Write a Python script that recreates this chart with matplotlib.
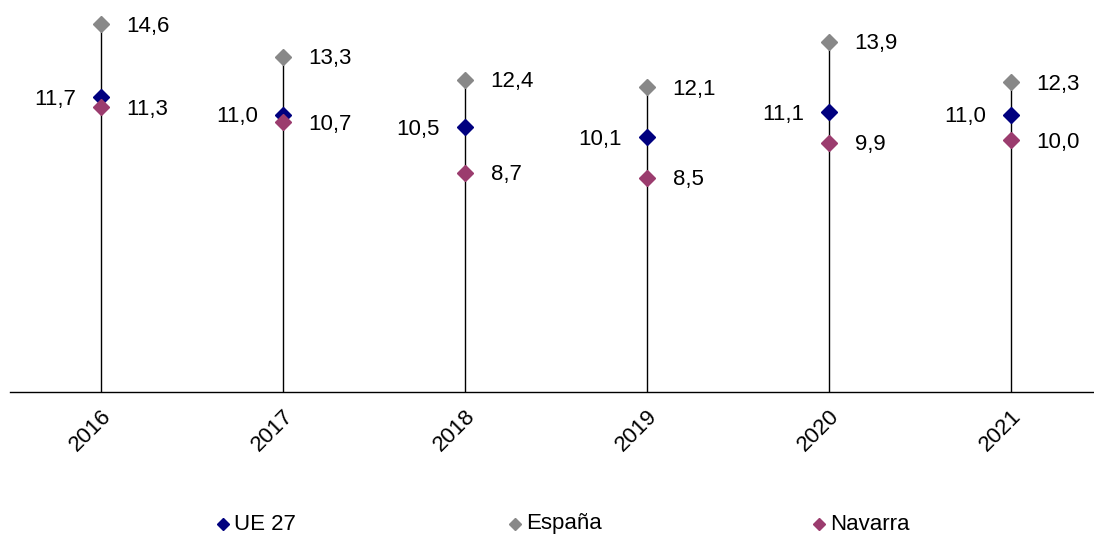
import matplotlib
matplotlib.use("Agg")
import matplotlib.pyplot as plt
from matplotlib.lines import Line2D
import numpy as np

plt.rcParams['font.family'] = ['Liberation Sans', 'DejaVu Sans']

years = ["2016", "2017", "2018", "2019", "2020", "2021"]
ue27 = [11.7, 11.0, 10.5, 10.1, 11.1, 11.0]
espana = [14.6, 13.3, 12.4, 12.1, 13.9, 12.3]
navarra = [11.3, 10.7, 8.7, 8.5, 9.9, 10.0]

c_ue = "#00007F"
c_es = "#888888"
c_na = "#9B3C6E"

W, H = 1094, 539
fig = plt.figure(figsize=(W / 100, H / 100), dpi=100)
ax = fig.add_axes([10 / W, (H - 392) / H, 1092 / W, 392 / H])
ax.set_xlim(-0.5, 5.5)
ax.set_ylim(0, 392 / 25.2)

x = np.arange(len(years))
hi = np.maximum(np.maximum(ue27, espana), navarra)
ax.vlines(x, 0, hi, color="black", lw=1.0, zorder=1)

ms = 8
ax.plot(x, espana, ls="none", marker="D", ms=ms, color=c_es, mec=c_es, zorder=3)
ax.plot(x, ue27, ls="none", marker="D", ms=ms, color=c_ue, mec=c_ue, zorder=3)
ax.plot(x, navarra, ls="none", marker="D", ms=ms, color=c_na, mec=c_na, zorder=4)

fs = 16
fmt = lambda v: f"{v:.1f}".replace(".", ",")
for xi, e, u, n in zip(x, espana, ue27, navarra):
    ax.annotate(fmt(e), (xi, e), xytext=(18.5, -1.5), textcoords="offset points",
                ha="left", va="center", fontsize=fs, color="black")
    ax.annotate(fmt(u), (xi, u), xytext=(-18, -1.5), textcoords="offset points",
                ha="right", va="center", fontsize=fs, color="black")
    ax.annotate(fmt(n), (xi, n), xytext=(18.5, -1.5), textcoords="offset points",
                ha="left", va="center", fontsize=fs, color="black")

for s in ["top", "right", "left"]:
    ax.spines[s].set_visible(False)
ax.spines["bottom"].set_linewidth(1.0)
ax.spines["bottom"].set_color("black")
ax.set_yticks([])
ax.set_xticks(x)
ax.set_xticklabels(years, rotation=45, ha="right", va="top", rotation_mode="anchor", fontsize=fs)
ax.tick_params(axis="x", length=0, pad=10)

# legend
leg_y = (H - 524) / H
for lx, lab, col in [(223, "UE 27", c_ue), (515, "España", c_es), (819, "Navarra", c_na)]:
    fig.add_artist(Line2D([lx / W], [leg_y], marker="D", ms=6, color=col, ls="none",
                          transform=fig.transFigure))
    fig.text((lx + 11) / W, leg_y, lab, ha="left", va="center", fontsize=fs)

fig.savefig("out.png", dpi=100)
